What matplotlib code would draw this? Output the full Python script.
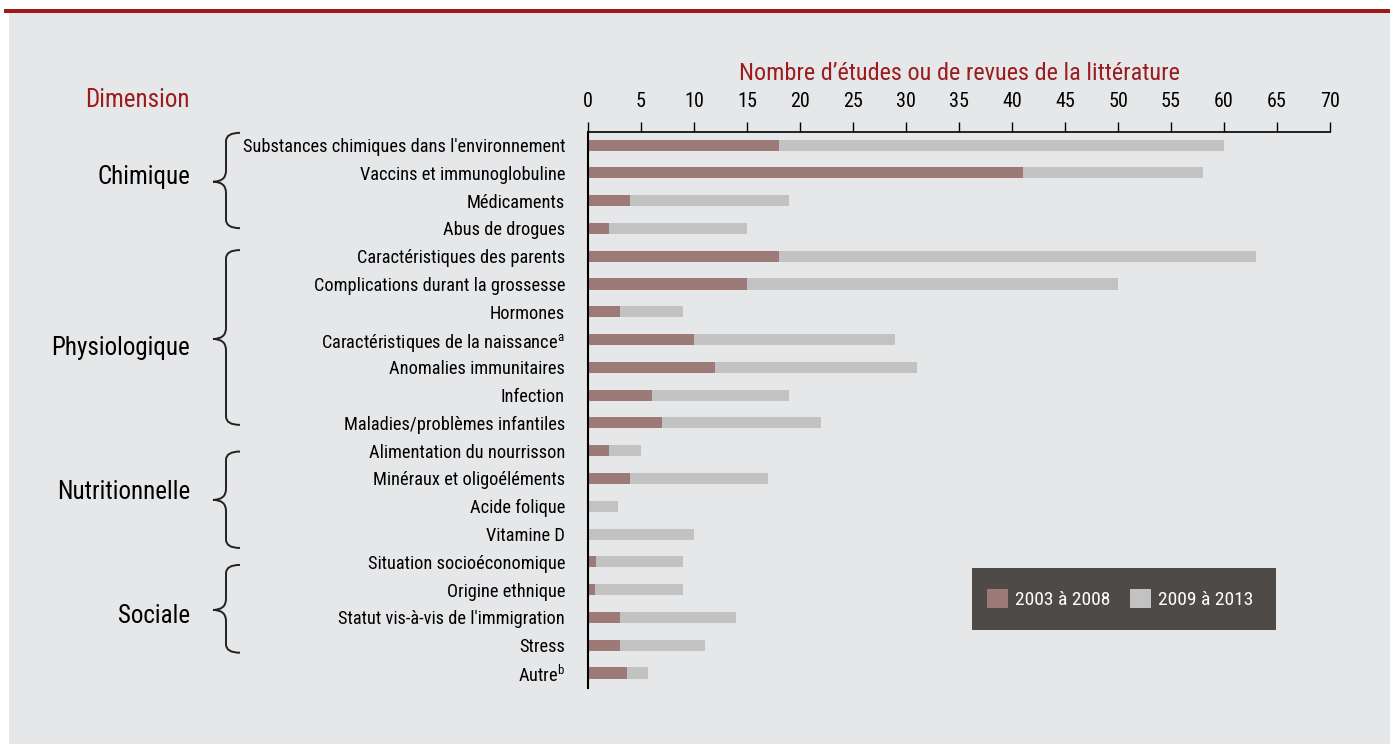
import matplotlib
matplotlib.use("Agg")
import matplotlib.pyplot as plt
import matplotlib.transforms as mtransforms
from matplotlib import font_manager
from matplotlib.path import Path
from matplotlib.patches import PathPatch, Rectangle
import numpy as np

## Pick a narrow sans if one is installed
names = {f.name for f in font_manager.fontManager.ttflist}
FONT = 'DejaVu Sans'
for cand in ['Liberation Sans Narrow', 'Roboto Condensed', 'Open Sans Condensed', 'Liberation Sans']:
    if cand in names:
        FONT = cand
        break
plt.rcParams['font.family'] = [FONT, 'DejaVu Sans']
plt.rcParams['mathtext.fontset'] = 'custom'
plt.rcParams['mathtext.rm'] = FONT

## ==== Data ====
categories = [
    "Substances chimiques dans l'environnement",
    "Vaccins et immunoglobuline",
    "Médicaments",
    "Abus de drogues",
    "Caractéristiques des parents",
    "Complications durant la grossesse",
    "Hormones",
    r"Caractéristiques de la naissance$^{\mathrm{a}}$",
    "Anomalies immunitaires",
    "Infection",
    "Maladies/problèmes infantiles",
    "Alimentation du nourrisson",
    "Minéraux et oligoéléments",
    "Acide folique",
    "Vitamine D",
    "Situation socioéconomique",
    "Origine ethnique",
    "Statut vis-à-vis de l'immigration",
    "Stress",
    r"Autre$^{\mathrm{b}}$",
]
p2003_2008 = [18, 41, 4, 2, 18, 15, 3, 10, 12, 6, 7, 2, 4, 0, 0, 0.8, 0.7, 3, 3, 3.7]
p2009_2013 = [42, 17, 15, 13, 45, 35, 6, 19, 19, 13, 15, 3, 13, 2.8, 10, 8.2, 8.3, 11, 8, 2]
series_names = ["2003 à 2008", "2009 à 2013"]

groups = ["Chimique", "Physiologique", "Nutritionnelle", "Sociale"]
group_span = [(-0.44, 2.99), (3.78, 10.07), (11.03, 14.5), (15.11, 18.27)]
group_tip = [1.32, 6.98, 12.77, 16.73]
group_text_y = [1.14, 7.3, 12.47, 16.95]

xticks = list(range(0, 75, 5))

BG = '#e6e7e9'
BROWN = '#9c7a77'
GREY = '#c2c2c2'
DARKRED = '#9b1c1f'
BOX = '#4e4a48'

## ==== Figure ====
fig = plt.figure(figsize=(13.9, 7.44), dpi=100)
fig.patch.set_facecolor('white')
fig.add_artist(Rectangle((9/1390, 0), 1, 1 - 12/744, transform=fig.transFigure,
                         facecolor=BG, edgecolor='none', zorder=-2))
fig.add_artist(Rectangle((4/1390, 1 - 12.5/744), 1, 3.5/744, transform=fig.transFigure,
                         facecolor='#a01818', edgecolor='none', zorder=-1))

ax = fig.add_axes([588/1390, 1 - 688/744, 742/1390, 556/744])
ax.set_facecolor('none')

y = np.arange(len(categories))
a = np.array(p2003_2008)
b = np.array(p2009_2013)
h1 = ax.barh(y, a, height=0.4, color=BROWN, label=series_names[0])
h2 = ax.barh(y, b, left=a, height=0.4, color=GREY, label=series_names[1])

ax.set_xlim(0, 70)
ax.set_ylim(19.54, -0.47)
ax.xaxis.tick_top()
ax.set_xticks(xticks)
ax.tick_params(axis='x', direction='out', length=7, width=1, pad=8, labelsize=14.5, colors='black')
ax.set_yticks(y)
ax.set_yticklabels(categories, fontsize=13.2)
ax.tick_params(axis='y', length=0, pad=16.5)
for s in ['right', 'bottom']:
    ax.spines[s].set_visible(False)
ax.spines['top'].set_linewidth(1.2)
ax.spines['left'].set_linewidth(1.5)

ax.set_xlabel("Nombre d’études ou de revues de la littérature", fontsize=17.5,
              color=DARKRED, labelpad=9)
ax.xaxis.set_label_position('top')

fig.text(190/1390, 1 - 100/744, "Dimension", fontsize=18, color=DARKRED,
         ha='right', va='center')

## braces: x in figure fraction, y in data rows
tr = mtransforms.blended_transform_factory(fig.transFigure, ax.transData)
x_end, x_v, x_tip = 240/1390, 226/1390, 213/1390
for name, (top, bot), tip, ty in zip(groups, group_span, group_tip, group_text_y):
    r, rt = 0.3, 0.4
    verts = [(x_end, top), (x_v, top), (x_v, top + r),
             (x_v, tip - rt), (x_v, tip), (x_tip, tip),
             (x_v, tip), (x_v, tip + rt),
             (x_v, bot - r), (x_v, bot), (x_end, bot)]
    codes = [Path.MOVETO, Path.CURVE3, Path.CURVE3,
             Path.LINETO, Path.CURVE3, Path.CURVE3,
             Path.CURVE3, Path.CURVE3,
             Path.LINETO, Path.CURVE3, Path.CURVE3]
    fig.add_artist(PathPatch(Path(verts, codes), transform=tr, facecolor='none',
                             edgecolor='#222222', lw=1.4))
    fig.text(190/1390, ty, name, transform=tr, fontsize=18, ha='right', va='center')

## legend box
fig.add_artist(Rectangle((972/1390, 1 - 630/744), 304/1390, 62/744, transform=fig.transFigure,
                         facecolor=BOX, edgecolor='none', zorder=2))
leg = fig.legend([h1, h2], series_names, loc='center',
                 bbox_to_anchor=(1120/1390, 1 - 599/744),
                 bbox_transform=fig.transFigure, ncol=2, frameon=False,
                 fontsize=14, handlelength=1.1, handleheight=1.1, handletextpad=0.35,
                 columnspacing=1.0, labelcolor='white')
leg.set_zorder(3)

plt.savefig("out.png", dpi=100, facecolor=fig.get_facecolor())
